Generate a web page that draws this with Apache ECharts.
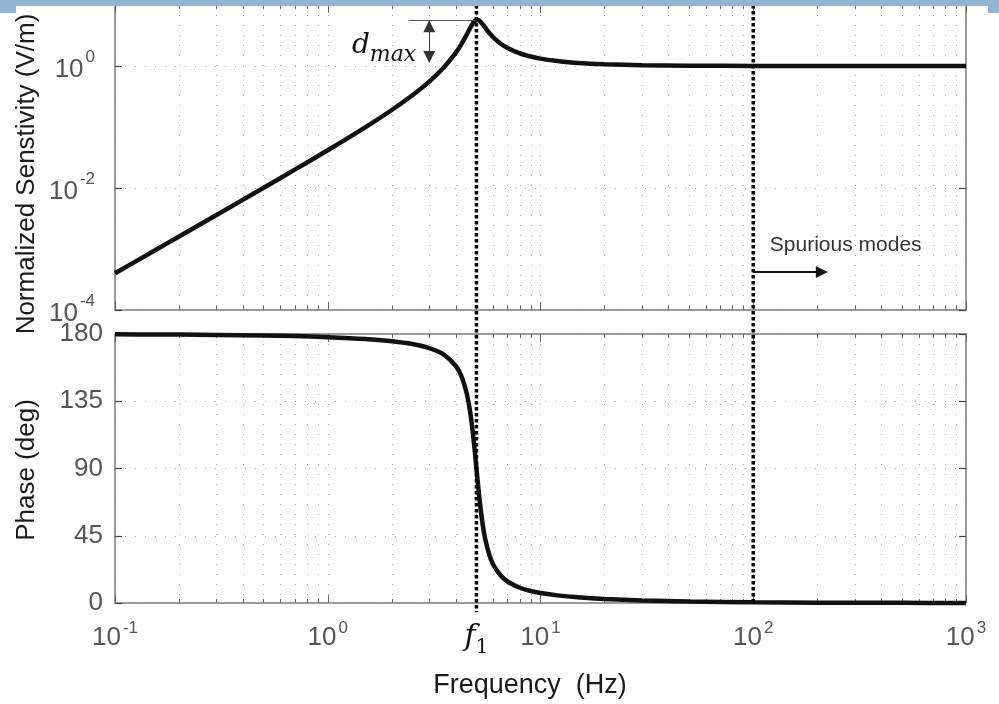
<!DOCTYPE html>
<html><head><meta charset="utf-8">
<script src="https://cdn.jsdelivr.net/npm/echarts@6/dist/echarts.min.js"></script>
<style>html,body{margin:0;padding:0;background:#fff}#c{width:999px;height:704px}</style>
</head><body><div id="c"></div>
<script>
// ---- data ----
const freq = [0.1,0.15,0.2,0.3,0.5,0.7,1,1.5,2,2.5,3,3.5,4,4.25,4.5,4.65,4.8,4.9,5,5.1,5.2,5.35,5.5,5.75,6,6.5,7,8,9,10,12,15,20,30,50,100,200,500,1000];
const sensitivity = [0.0004,0.0009,0.0016,0.0036,0.0101,0.020,0.0416,0.0987,0.190,0.331,0.555,0.934,1.656,2.29,3.27,4.08,4.95,5.43,5.68,5.65,5.40,4.82,4.24,3.47,2.95,2.32,1.98,1.61,1.43,1.32,1.21,1.12,1.066,1.028,1.010,1.0025,1.0006,1.0001,1.0];
const phase = [179.8,179.7,179.6,179.4,179.0,178.6,177.9,176.7,175.2,173.3,170.6,166.4,158.6,151.7,140.2,129.5,114.9,102.9,90,77.3,66.0,52.4,42.7,32.1,25.6,18.4,14.4,10.2,8.0,6.7,5.1,3.8,2.7,1.7,1.0,0.5,0.25,0.1,0.05];
const minorTicks = [0.2,0.3,0.4,0.5,0.6,0.7,0.8,0.9,2,3,4,5,6,7,8,9,20,30,40,50,60,70,80,90,200,300,400,500,600,700,800,900];
const f1 = 5;
const fSpurious = 100;
const peakValue = 5.68;

// ---- styling ----
const FONT = 'Liberation Sans';
const SERIF = 'DejaVu Serif';
const frameC = '#7a7a7a';
const tickC = '#666';
const bandC = '#93b3d3';
const dotted = {color:'#a0a0a0', width:1, type:[1,9]};
const richNumX = {
  b:{fontFamily:FONT, fontSize:26, color:'#555', lineHeight:31, verticalAlign:'bottom'},
  s:{fontFamily:FONT, fontSize:17, color:'#555', lineHeight:20, verticalAlign:'top', padding:[0,0,0,2]}
};
const richNumY = {
  b:{fontFamily:FONT, fontSize:26, color:'#555', lineHeight:34, verticalAlign:'bottom'},
  s:{fontFamily:FONT, fontSize:17, color:'#555', lineHeight:20, verticalAlign:'top', padding:[0,0,0,2]}
};
function pow10Label(v){ if (v > 1.5) return ''; const e = Math.round(Math.log10(v)); return '{b|10}{s|' + e + '}'; }
function pow10LabelX(v){ const e = Math.round(Math.log10(v)); return '{b|10}{s|' + e + '}'; }
const minorExp = minorTicks.map(v => Math.log10(v));

function logX(grid, pos, opt){
  return Object.assign({type:'log', logBase:10, gridIndex:grid, position:pos, min:0.1, max:1000, interval:1,
    axisLine:{show:false, onZero:false},
    axisTick:{show:true, inside:true, length:8, lineStyle:{color:tickC, width:1}},
    axisLabel:{show:false}, splitLine:{show:false}}, opt||{});
}
function minorX(grid, pos, opt){
  return Object.assign({type:'value', gridIndex:grid, position:pos, min:-1, max:3,
    axisLine:{show:false, onZero:false},
    axisTick:{show:true, inside:true, length:4, customValues:minorExp, lineStyle:{color:tickC, width:1}},
    axisLabel:{show:false}, splitLine:{show:false}}, opt||{});
}

const chart = echarts.init(document.getElementById('c'), null, {renderer:'canvas'});
chart.setOption({
  animation:false,
  backgroundColor:'#ffffff',
  grid:[
    {left:115, top:5, width:851, height:305, show:true, borderColor:frameC, borderWidth:1.5, backgroundColor:'transparent'},
    {left:115, top:334, width:851, height:269, show:true, borderColor:frameC, borderWidth:1.5, backgroundColor:'transparent'}
  ],
  xAxis:[
    logX(0,'bottom',{splitLine:{show:true, lineStyle:dotted}}),
    minorX(0,'bottom',{splitLine:{show:true, lineStyle:dotted}}),
    logX(0,'top'),
    minorX(0,'top'),
    logX(1,'bottom',{splitLine:{show:true, lineStyle:dotted},
      axisLabel:{show:true, formatter:pow10LabelX, rich:richNumX, margin:17}}),
    minorX(1,'bottom',{splitLine:{show:true, lineStyle:dotted},
      axisLabel:{show:true, customValues:[Math.log10(f1)], margin:19,
        formatter:function(){ return '{f|f}{sub|1}'; },
        rich:{
          f:{fontFamily:SERIF, fontStyle:'italic', fontSize:30, color:'#111', lineHeight:36, verticalAlign:'top'},
          sub:{fontFamily:SERIF, fontSize:20, color:'#111', lineHeight:22, verticalAlign:'bottom'}
        }}}),
    logX(1,'top'),
    minorX(1,'top')
  ],
  yAxis:[
    {type:'log', logBase:10, gridIndex:0, position:'left', min:1e-4, max:10, interval:2,
      axisLine:{show:false, onZero:false},
      axisTick:{show:true, inside:true, length:7, lineStyle:{color:'#444', width:1.2}},
      axisLabel:{show:true, formatter:pow10Label, rich:richNumY, margin:20},
      splitLine:{show:true, lineStyle:dotted}},
    {type:'log', logBase:10, gridIndex:0, position:'right', min:1e-4, max:10, interval:2,
      axisLine:{show:false, onZero:false},
      axisTick:{show:true, inside:true, length:7, lineStyle:{color:'#444', width:1.2}},
      axisLabel:{show:false}, splitLine:{show:false}},
    {type:'value', gridIndex:1, position:'left', min:0, max:180, interval:45,
      axisLine:{show:false, onZero:false},
      axisTick:{show:true, inside:true, length:7, lineStyle:{color:'#444', width:1.2}},
      axisLabel:{show:true, fontFamily:FONT, fontSize:26, color:'#555', margin:12},
      splitLine:{show:true, lineStyle:dotted}},
    {type:'value', gridIndex:1, position:'right', min:0, max:180, interval:45,
      axisLine:{show:false, onZero:false},
      axisTick:{show:true, inside:true, length:7, lineStyle:{color:'#444', width:1.2}},
      axisLabel:{show:false}, splitLine:{show:false}}
  ],
  series:[
    {type:'line', xAxisIndex:0, yAxisIndex:0, data:freq.map((f,i)=>[f, sensitivity[i]]),
      symbol:'none', smooth:0.3, clip:false, silent:true,
      lineStyle:{color:'#111', width:4.5},
      markLine:{silent:true, symbol:['none','none'], label:{show:false}, animation:false,
        emphasis:{disabled:true},
        data:[
          [{coord:[2.4,peakValue], lineStyle:{color:'#555', width:1, type:'solid'}},{coord:[f1,peakValue]}],
          [{coord:[3,4.5], symbol:'triangle', symbolSize:[12,12], lineStyle:{color:'#333', width:1, type:'solid'}},
           {coord:[3,1.4], symbol:'triangle', symbolSize:[12,12]}],
          [{coord:[fSpurious,4.2e-4], lineStyle:{color:'#111', width:2, type:'solid'}},
           {coord:[210,4.2e-4], symbol:'triangle', symbolSize:[12,12]}]
        ]},
      markPoint:{silent:true, symbol:'circle', symbolSize:0, animation:false,
        label:{show:true, position:'inside'},
        data:[
          {coord:[1.84,1.9], label:{formatter:'{d|d}{m|max}', rich:{
            d:{fontFamily:SERIF, fontStyle:'italic', fontSize:28, color:'#111', lineHeight:34, verticalAlign:'top'},
            m:{fontFamily:SERIF, fontStyle:'italic', fontSize:22, color:'#111', lineHeight:26, verticalAlign:'bottom'}}}},
          {coord:[272,1.16e-3], label:{formatter:'Spurious modes', fontFamily:FONT, fontSize:21, color:'#333'}}
        ]}
    },
    {type:'line', xAxisIndex:4, yAxisIndex:2, data:freq.map((f,i)=>[f, phase[i]]),
      symbol:'none', smooth:0.3, clip:false, silent:true,
      lineStyle:{color:'#111', width:4.5}
    }
  ]
});

// vertical dotted reference lines spanning both panels, placed through the axes' scales
const pF1Top = chart.convertToPixel({xAxisIndex:0, yAxisIndex:0}, [f1, 10]);
const pF1Bot = chart.convertToPixel({xAxisIndex:4, yAxisIndex:2}, [f1, -6]);
const pSpTop = chart.convertToPixel({xAxisIndex:0, yAxisIndex:0}, [fSpurious, 10]);
const pSpBot = chart.convertToPixel({xAxisIndex:4, yAxisIndex:2}, [fSpurious, 0]);
const dotLine = {stroke:'#000', lineWidth:3.5, lineDash:[3.5,2.5]};
chart.setOption({
  graphic:{elements:[
    {id:'vf1', type:'line', z:90, shape:{x1:pF1Top[0], y1:pF1Top[1], x2:pF1Bot[0], y2:pF1Bot[1]}, style:dotLine, silent:true},
    {id:'vsp', type:'line', z:90, shape:{x1:pSpTop[0], y1:pSpTop[1], x2:pSpBot[0], y2:pSpBot[1]}, style:dotLine, silent:true},
    {id:'band', type:'rect', z:100, shape:{x:0,y:0,width:999,height:6}, style:{fill:bandC}},
    {id:'tabL', type:'rect', z:100, shape:{x:0,y:6,width:16,height:7}, style:{fill:bandC}},
    {id:'tabR', type:'rect', z:100, shape:{x:988,y:6,width:11,height:7}, style:{fill:bandC}},
    {id:'t1', type:'text', z:100, x:27, y:174, rotation:Math.PI/2,
      style:{text:'Normalized Senstivity (V/m)', fontFamily:FONT, fontSize:26, fill:'#1a1a1a', align:'center', verticalAlign:'middle'}},
    {id:'t2', type:'text', z:100, x:27, y:470, rotation:Math.PI/2,
      style:{text:'Phase (deg)', fontFamily:FONT, fontSize:26, fill:'#1a1a1a', align:'center', verticalAlign:'middle'}},
    {id:'t3', type:'text', z:100, x:530, y:686,
      style:{text:'Frequency  (Hz)', fontFamily:FONT, fontSize:27, fill:'#1a1a1a', align:'center', verticalAlign:'middle'}}
  ]}
});
</script>
</body></html>
